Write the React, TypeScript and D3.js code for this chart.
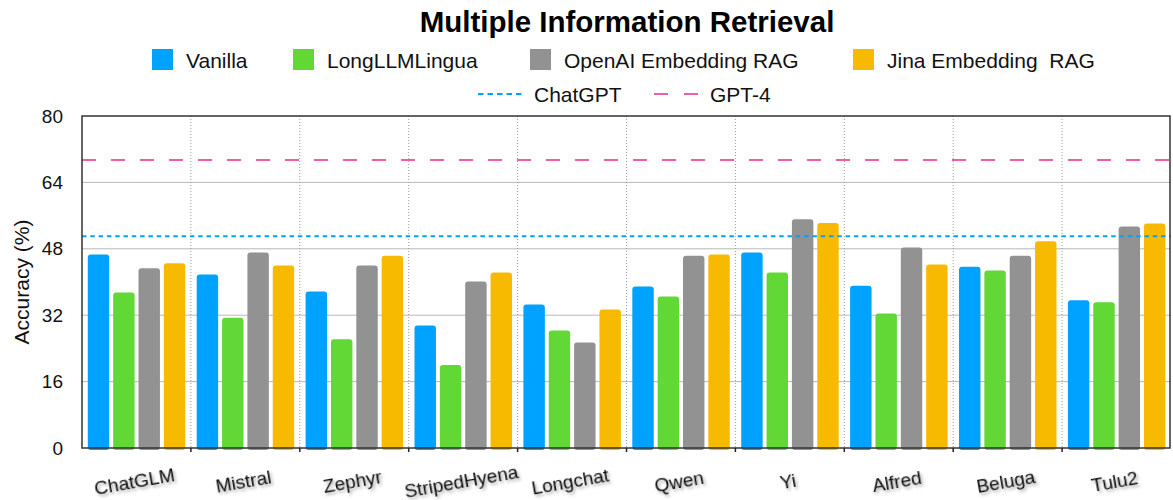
import React, { useEffect, useRef } from 'react';
import * as d3 from 'd3';

const models = ['ChatGLM', 'Mistral', 'Zephyr', 'StripedHyena', 'Longchat', 'Qwen', 'Yi', 'Alfred', 'Beluga', 'Tulu2'];
const seriesNames = ['Vanilla', 'LongLLMLingua', 'OpenAI Embedding RAG', 'Jina Embedding  RAG'];
const vanilla = [46.6, 41.8, 37.7, 29.5, 34.6, 38.9, 47.1, 39.1, 43.7, 35.6];
const longLLMLingua = [37.5, 31.4, 26.2, 20.0, 28.3, 36.5, 42.3, 32.4, 42.8, 35.1];
const openaiRag = [43.3, 47.1, 44.0, 40.1, 25.4, 46.3, 55.1, 48.3, 46.3, 53.4];
const jinaRag = [44.5, 44.0, 46.3, 42.3, 33.4, 46.6, 54.2, 44.2, 49.8, 54.1];
const seriesColors = ['#00A2FF', '#61D836', '#929292', '#F8BA00'];
const refLines = [
  { name: 'ChatGPT', value: 51.0, color: '#00A2FF', dash: '4.5,3.8' },
  { name: 'GPT-4', value: 69.4, color: '#EF5FA7', dash: '14,15' },
];
const yTicks = [0, 16, 32, 48, 64, 80];

const width = 1173;
const height = 500;
const margin = { top: 116, right: 2, bottom: 52, left: 82 };
const font = 'Helvetica, "Liberation Sans", Arial, sans-serif';

const App = () => {
  const ref = useRef<SVGSVGElement>(null);

  useEffect(() => {
    const svg = d3.select(ref.current);
    svg.selectAll('*').remove();
    drawChart(svg);
  }, []);

  function drawChart(svg: any) {
    const values = [vanilla, longLLMLingua, openaiRag, jinaRag];
    const innerW = width - margin.left - margin.right;
    const innerH = height - margin.top - margin.bottom;

    const defs = svg.append('defs');
    const filter = defs.append('filter').attr('id', 'shadow')
      .attr('x', '-20%').attr('y', '-40%').attr('width', '140%').attr('height', '180%');
    filter.append('feDropShadow')
      .attr('dx', 1.5).attr('dy', 2.5).attr('stdDeviation', 1.5)
      .attr('flood-color', '#000').attr('flood-opacity', 0.35);

    const x0 = d3.scaleBand().domain(models).range([margin.left, margin.left + innerW]).padding(0);
    const x1 = d3.scaleBand().domain(seriesNames.map((d, i) => String(i)))
      .range([5.8, x0.bandwidth() - 5.6]).paddingInner(0.154).paddingOuter(0);
    const y = d3.scaleLinear().domain([0, 80]).range([margin.top + innerH, margin.top]);

    // gridlines
    svg.append('g').selectAll('line')
      .data(yTicks.filter(t => t > 0 && t < 80))
      .enter().append('line')
      .attr('x1', margin.left).attr('x2', margin.left + innerW)
      .attr('y1', d => y(d)).attr('y2', d => y(d))
      .attr('stroke', '#b8b8b8').attr('stroke-width', 1);

    // dotted group separators
    svg.append('g').selectAll('line')
      .data(models.slice(1))
      .enter().append('line')
      .attr('x1', d => x0(d)).attr('x2', d => x0(d))
      .attr('y1', margin.top).attr('y2', margin.top + innerH)
      .attr('stroke', '#999').attr('stroke-width', 1).attr('stroke-dasharray', '1,2');

    // bars
    models.forEach((m, gi) => {
      const g = svg.append('g').attr('transform', `translate(${x0(m)},0)`);
      g.selectAll('rect')
        .data(values.map((s, si) => ({ si, v: s[gi] })))
        .enter().append('rect')
        .attr('x', d => x1(String(d.si)))
        .attr('y', d => y(d.v))
        .attr('width', x1.bandwidth())
        .attr('height', d => y(0) - y(d.v) + 2)
        .attr('rx', 3)
        .attr('fill', d => seriesColors[d.si]);
    });

    // reference lines
    svg.append('g').selectAll('line')
      .data(refLines)
      .enter().append('line')
      .attr('x1', margin.left).attr('x2', margin.left + innerW)
      .attr('y1', d => y(d.value)).attr('y2', d => y(d.value))
      .attr('stroke', d => d.color).attr('stroke-width', 2)
      .attr('stroke-dasharray', d => d.dash);

    // frame
    svg.append('rect')
      .attr('x', margin.left).attr('y', margin.top)
      .attr('width', innerW - 1).attr('height', innerH)
      .attr('fill', 'none').attr('stroke', '#333').attr('stroke-width', 1.5);

    // bottom ticks
    svg.append('g').selectAll('line')
      .data(models.slice(1))
      .enter().append('line')
      .attr('x1', d => x0(d)).attr('x2', d => x0(d))
      .attr('y1', y(0)).attr('y2', y(0) + 4)
      .attr('stroke', '#222').attr('stroke-width', 1.5);

    // y axis labels
    svg.append('g').selectAll('text')
      .data(yTicks)
      .enter().append('text')
      .attr('x', 63).attr('y', d => y(d)).attr('dy', '0.35em')
      .attr('text-anchor', 'end')
      .style('font-family', font).style('font-size', '19px').attr('fill', '#111')
      .text(d => d);

    svg.append('text')
      .attr('transform', `translate(29, ${margin.top + innerH / 2}) rotate(-90)`)
      .attr('text-anchor', 'middle')
      .style('font-family', font).style('font-size', '21px').attr('fill', '#111')
      .text('Accuracy (%)');

    // x labels
    svg.append('g').selectAll('text')
      .data(models)
      .enter().append('text')
      .attr('transform', d => `translate(${x0(d) + x0.bandwidth() / 2 - 2}, 481) rotate(-10)`)
      .attr('text-anchor', 'middle').attr('dy', '0.35em')
      .attr('filter', 'url(#shadow)')
      .style('font-family', font).style('font-size', '19px').attr('fill', '#111')
      .text(d => d);

    // title
    svg.append('text')
      .attr('x', 627).attr('y', 32)
      .attr('text-anchor', 'middle')
      .style('font-family', font).style('font-size', '29.5px').style('font-weight', 'bold')
      .attr('fill', '#000')
      .text('Multiple Information Retrieval');

    // legend row 1
    const legendX = [152, 293, 530, 853];
    const leg = svg.append('g');
    seriesNames.forEach((name, i) => {
      leg.append('rect')
        .attr('x', legendX[i]).attr('y', 49)
        .attr('width', 21).attr('height', 21)
        .attr('fill', seriesColors[i]);
      leg.append('text')
        .attr('x', legendX[i] + 34).attr('y', 61).attr('dy', '0.35em')
        .style('font-family', font).style('font-size', '21px').attr('fill', '#111')
        .style('white-space', 'pre')
        .text(name);
    });

    // legend row 2
    const lineLegendX = [478, 654];
    refLines.forEach((r, i) => {
      leg.append('line')
        .attr('x1', lineLegendX[i]).attr('x2', lineLegendX[i] + 44)
        .attr('y1', 94).attr('y2', 94)
        .attr('stroke', r.color).attr('stroke-width', 2)
        .attr('stroke-dasharray', i === 0 ? '5.5,4' : '14,16');
      leg.append('text')
        .attr('x', lineLegendX[i] + 56).attr('y', 95).attr('dy', '0.35em')
        .style('font-family', font).style('font-size', '21px').attr('fill', '#111')
        .text(r.name);
    });
  }

  return (
    <svg ref={ref} width={width} height={height} style={{ display: 'block', position: 'absolute', left: 0, top: 0 }}></svg>
  );
};

export default App;
